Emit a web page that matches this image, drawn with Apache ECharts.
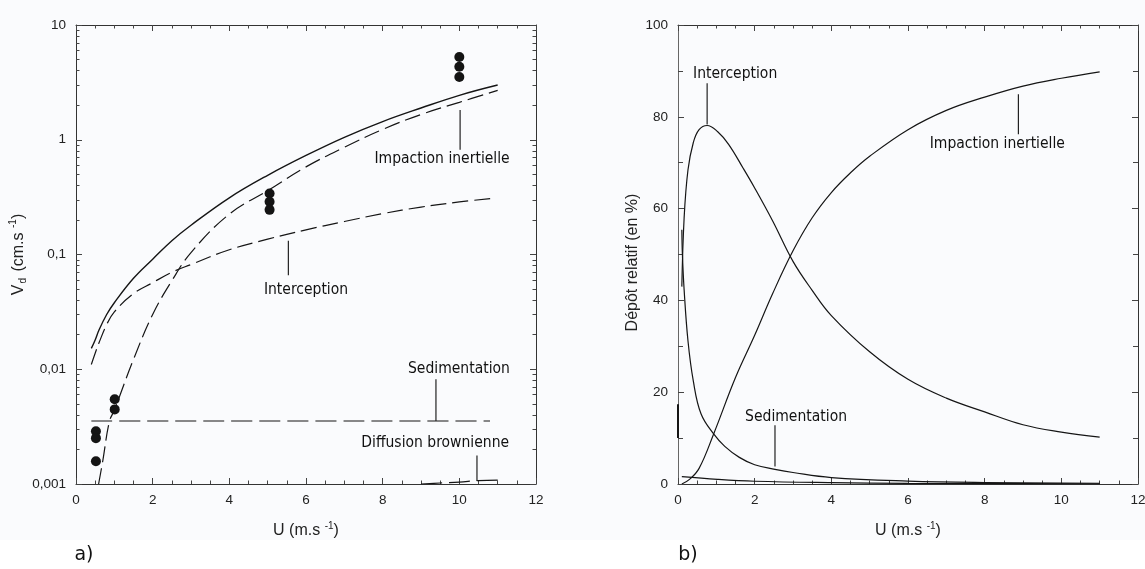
<!DOCTYPE html>
<html><head><meta charset="utf-8">
<script src="https://cdn.jsdelivr.net/npm/echarts@6/dist/echarts.min.js"></script>
<style>html,body{margin:0;padding:0;background:#fff}#c{width:1145px;height:569px}</style>
</head><body><div id="c"></div><script>
// ---------- Panel a) : deposition velocity Vd (cm/s), log scale ----------
const A_TOTAL_U = [0.4, 0.5, 0.6, 0.8, 1, 1.5, 2, 2.5, 3, 4, 5, 6, 7, 8, 9, 10, 11];
const A_TOTAL_V = [0.0152, 0.018, 0.022, 0.030, 0.038, 0.062, 0.091, 0.132, 0.180, 0.312, 0.49, 0.73, 1.05, 1.44, 1.89, 2.44, 3.0];
const A_INTER_U = [0.4, 0.5, 0.6, 0.8, 1, 1.5, 2, 2.5, 3, 4, 5, 6, 7, 8, 9, 10, 10.9];
const A_INTER_V = [0.011, 0.0138, 0.017, 0.0245, 0.0316, 0.0456, 0.0568, 0.070, 0.0818, 0.110, 0.136, 0.164, 0.194, 0.227, 0.259, 0.287, 0.309];
const A_IMPAC_U = [0.59, 0.7, 0.87, 1, 1.5, 2, 2.5, 3, 4, 5, 6, 7, 8, 9, 10, 11];
const A_IMPAC_V = [0.001, 0.0016, 0.0035, 0.0044, 0.0122, 0.030, 0.059, 0.104, 0.225, 0.36, 0.58, 0.86, 1.23, 1.66, 2.12, 2.69];
const A_SEDIM_U = [0.4, 10.8];
const A_SEDIM_V = [0.00354, 0.00354];
const A_DIFF_U = [9.0, 9.5, 10, 10.5, 11];
const A_DIFF_V = [0.00100, 0.00102, 0.00104, 0.00107, 0.00108];
const A_MEAS_U = [0.52, 0.52, 0.52, 1.01, 1.01, 5.05, 5.05, 5.05, 10, 10, 10];
const A_MEAS_V = [0.00288, 0.00251, 0.00158, 0.00548, 0.00447, 0.340, 0.288, 0.245, 5.26, 4.32, 3.52];

// ---------- Panel b) : relative deposition (%) ----------
const B_INTER_U = [0.1, 0.16, 0.26, 0.4, 0.55, 0.76, 1.03, 1.32, 1.7, 2.0, 2.47, 3.0, 3.5, 4, 5, 6, 7, 8, 9, 10, 11];
const B_INTER_V = [43, 58, 68.4, 74.4, 77.2, 78.1, 76.8, 74, 68.8, 64.5, 57.3, 48.5, 42.2, 36.7, 28.8, 22.8, 18.7, 15.7, 12.9, 11.3, 10.2];
const B_IMPAC_U = [0.1, 0.3, 0.55, 0.93, 1.5, 2, 2.47, 3, 3.5, 4, 4.5, 5, 6, 7, 8, 9, 10, 11];
const B_IMPAC_V = [0, 1, 3.4, 10.9, 23.2, 32.4, 41.5, 50.8, 58.0, 63.5, 67.8, 71.4, 77.2, 81.4, 84.3, 86.7, 88.4, 89.8];
const B_SEDIM_U = [0.1, 0.115, 0.16, 0.26, 0.4, 0.6, 0.93, 1.22, 1.6, 2, 2.53, 3, 4, 6, 8, 11];
const B_SEDIM_V = [55.4, 50, 42.3, 31.2, 22.4, 15.3, 10.9, 8.2, 5.8, 4.2, 3.2, 2.5, 1.4, 0.63, 0.32, 0.16];
const B_DIFF_U = [0.1, 1.03, 2, 4, 6, 8, 11];
const B_DIFF_V = [1.6, 1.0, 0.6, 0.3, 0.15, 0.08, 0.05];
const B_SEG_U = [0, 0];
const B_SEG_V = [10, 17.4];

// tick positions
const X_MINOR = [0.5, 1, 1.5, 2.5, 3, 3.5, 4.5, 5, 5.5, 6.5, 7, 7.5, 8.5, 9, 9.5, 10.5, 11, 11.5];
const B_Y_MINOR = [10, 30, 50, 70, 90];

// annotations (data coordinates)
const ANN_A = [
  {text: 'Impaction inertielle', at: [9.55, 0.68], line: [[10.02, 1.82], [10.02, 0.817]]},
  {text: 'Interception', at: [6.0, 0.049], line: [[5.54, 0.1315], [5.54, 0.0658]]},
  {text: 'Sedimentation', at: [9.99, 0.01], line: [[9.39, 0.00819], [9.39, 0.00354]]},
  {text: 'Diffusion brownienne', at: [9.37, 0.00228], line: [[10.46, 0.00177], [10.46, 0.00106]]}
];
const ANN_B = [
  {text: 'Interception', at: [1.49, 89.3], line: [[0.76, 87.3], [0.76, 78.3]]},
  {text: 'Impaction inertielle', at: [8.33, 74.1], line: [[8.88, 84.9], [8.88, 76.2]]},
  {text: 'Sedimentation', at: [3.08, 14.7], line: [[2.53, 12.8], [2.53, 3.8]]}
];

const zip = (u, v) => u.map((x, i) => [x, v[i]]);
const minorLog = [];
for (let n = -3; n < 1; n++) for (let k = 2; k <= 9; k++) minorLog.push(Math.log10(k) + n);

const LBL = {fontFamily: 'Liberation Sans', fontSize: 13.5, color: '#222'};
const NAMEFS = 16;
const AX = '#333';
const TICK = {color: '#444', width: 1};
function xAx(grid, pos, labels, name) {
  return {
    type: 'value', gridIndex: grid, position: pos, min: 0, max: 12, interval: 2,
    axisLine: {show: true, onZero: false, lineStyle: {color: AX, width: 1}},
    axisTick: {show: true, inside: true, length: 6, lineStyle: TICK},
    minorTick: {show: false}, splitLine: {show: false},
    axisLabel: Object.assign({show: labels, margin: 9}, LBL),
    name: labels ? name : '', nameLocation: 'middle', nameGap: 37,
    nameTextStyle: {fontFamily: 'Liberation Sans', fontSize: NAMEFS, color: '#222',
      rich: {a: {fontFamily: 'Liberation Sans', fontSize: NAMEFS, color: '#222', lineHeight: 20},
             sup: {fontFamily: 'Liberation Sans', fontSize: 10, color: '#222', verticalAlign: 'top', lineHeight: 20, padding: [0, 0, 7, 0]}}}
  };
}
function xMinor(grid, pos) {
  return {
    type: 'value', gridIndex: grid, position: pos, min: 0, max: 12,
    axisLine: {show: false, onZero: false}, splitLine: {show: false}, axisLabel: {show: false},
    axisTick: {show: true, inside: true, length: 3.5, customValues: X_MINOR, lineStyle: TICK}
  };
}
const logFmt = v => String(parseFloat((+v).toPrecision(6))).replace('.', ',');
function yLog(pos, labels) {
  return {
    type: 'log', gridIndex: 0, position: pos, min: 0.001, max: 10, logBase: 10,
    axisLine: {show: true, onZero: false, lineStyle: {color: AX}},
    axisTick: {show: true, inside: true, length: 6, lineStyle: TICK},
    minorTick: {show: false}, splitLine: {show: false},
    axisLabel: Object.assign({show: labels, margin: 10, formatter: logFmt}, LBL),
    name: labels ? '{a|V}{sub|d}{a| (cm.s }{sup|-1}{a|)}' : '',
    nameLocation: 'middle', nameGap: 45, nameRotate: 90,
    nameTextStyle: {fontFamily: 'Liberation Sans', fontSize: NAMEFS, color: '#222', rich: {
      a: {fontFamily: 'Liberation Sans', fontSize: NAMEFS, color: '#222', lineHeight: 20},
      sub: {fontFamily: 'Liberation Sans', fontSize: 10, color: '#222', verticalAlign: 'bottom', lineHeight: 20, padding: [7, 2, 0, 1]},
      sup: {fontFamily: 'Liberation Sans', fontSize: 10, color: '#222', verticalAlign: 'top', lineHeight: 20, padding: [0, 0, 7, 0]}
    }}
  };
}
function yMinor(grid, pos, min, max, values, len) {
  return {
    type: 'value', gridIndex: grid, position: pos, min, max,
    axisLine: {show: false, onZero: false}, splitLine: {show: false}, axisLabel: {show: false},
    axisTick: {show: true, inside: true, length: len, customValues: values, lineStyle: TICK}
  };
}
function yLin(pos, labels) {
  return {
    type: 'value', gridIndex: 1, position: pos, min: 0, max: 100, interval: 20,
    axisLine: {show: true, onZero: false, lineStyle: {color: pos === 'left' ? '#666' : AX}},
    axisTick: {show: true, inside: true, length: 6, lineStyle: TICK},
    minorTick: {show: false}, splitLine: {show: false},
    axisLabel: Object.assign({show: labels, margin: 10}, LBL),
    name: labels ? 'Dépôt relatif (en %)' : '', nameLocation: 'middle', nameGap: 37, nameRotate: 90,
    nameTextStyle: {fontFamily: 'Liberation Sans', fontSize: NAMEFS, color: '#222', padding: [0, 16, 0, 0]}
  };
}
const XNAME = '{a|U (m.s }{sup|-1}{a|)}';
const lineS = (name, x, y, data, dash, w) => ({
  name, type: 'line', xAxisIndex: x, yAxisIndex: y, data, symbol: 'none',
  smooth: 0.4,
  lineStyle: {color: '#151515', width: w || 1.2, type: dash || 'solid'}, z: 3, silent: true
});

const RECT_A = {left: 76, top: 25, width: 460, height: 459, containLabel: false, outerBoundsMode: 'none'};
const RECT_B = {left: 678, top: 25, width: 460, height: 459, containLabel: false, outerBoundsMode: 'none'};
const option = {
  animation: false,
  backgroundColor: '#fff',
  grid: [RECT_A, RECT_B, Object.assign({}, RECT_A), Object.assign({}, RECT_B)],
  xAxis: [
    xAx(0, 'bottom', true, XNAME), xAx(0, 'top', false),
    xAx(1, 'bottom', true, XNAME), xAx(1, 'top', false),
    xMinor(2, 'bottom'), xMinor(2, 'top'), xMinor(3, 'bottom'), xMinor(3, 'top')
  ],
  yAxis: [
    yLog('left', true), yLog('right', false),
    yLin('left', true), yLin('right', false),
    yMinor(2, 'left', -3, 1, minorLog, 3.5), yMinor(2, 'right', -3, 1, minorLog, 3.5),
    yMinor(3, 'left', 0, 100, B_Y_MINOR, 5), yMinor(3, 'right', 0, 100, B_Y_MINOR, 5)
  ],
  series: [
    lineS('Total', 0, 0, zip(A_TOTAL_U, A_TOTAL_V), 'solid', 1.4),
    lineS('Interception', 0, 0, zip(A_INTER_U, A_INTER_V), [16, 6]),
    lineS('Impaction inertielle', 0, 0, zip(A_IMPAC_U, A_IMPAC_V), [16, 6]),
    lineS('Sedimentation', 0, 0, zip(A_SEDIM_U, A_SEDIM_V), [21, 7]),
    lineS('Diffusion brownienne', 0, 0, zip(A_DIFF_U, A_DIFF_V), [21, 7]),
    {name: 'Mesures', type: 'scatter', xAxisIndex: 0, yAxisIndex: 0, data: zip(A_MEAS_U, A_MEAS_V),
     symbol: 'circle', symbolSize: 10, itemStyle: {color: '#141414', opacity: 1}, z: 4, silent: true},
    lineS('Interception b', 2, 2, zip(B_INTER_U, B_INTER_V)),
    lineS('Impaction b', 2, 2, zip(B_IMPAC_U, B_IMPAC_V)),
    lineS('Sedimentation b', 2, 2, zip(B_SEDIM_U, B_SEDIM_V)),
    lineS('Diffusion b', 2, 2, zip(B_DIFF_U, B_DIFF_V)),
    Object.assign(lineS('seg b', 2, 2, zip(B_SEG_U, B_SEG_V), 'solid', 2), {clip: false, smooth: false})
  ]
};

const chart = echarts.init(document.getElementById('c'), null, {renderer: 'canvas'});
chart.setOption(option);

const ANN_FONT = '15.5px "DejaVu Sans Condensed", "DejaVu Sans", sans-serif';
const gfx = [
  {type: 'rect', shape: {x: 0, y: 0, width: 1145, height: 540}, style: {fill: '#fafbfd'}, z: -10, silent: true},
  {type: 'text', style: {text: 'a)', x: 84, y: 555, font: '19px "DejaVu Sans"', fill: '#111', align: 'center', verticalAlign: 'middle'}},
  {type: 'text', style: {text: 'b)', x: 688, y: 555, font: '19px "DejaVu Sans"', fill: '#111', align: 'center', verticalAlign: 'middle'}}
];
function addAnn(list, finder) {
  list.forEach(a => {
    const p = chart.convertToPixel(finder, a.at);
    const l1 = chart.convertToPixel(finder, a.line[0]);
    const l2 = chart.convertToPixel(finder, a.line[1]);
    gfx.push({type: 'text', z: 10, style: {text: a.text, x: p[0], y: p[1], font: ANN_FONT, fill: '#111', align: 'center', verticalAlign: 'middle'}});
    gfx.push({type: 'line', z: 10, shape: {x1: l1[0], y1: l1[1], x2: l2[0], y2: l2[1]}, style: {stroke: '#222', lineWidth: 1.2}});
  });
}
addAnn(ANN_A, {xAxisIndex: 0, yAxisIndex: 0});
addAnn(ANN_B, {xAxisIndex: 2, yAxisIndex: 2});
chart.setOption({graphic: gfx});
</script></body></html>
